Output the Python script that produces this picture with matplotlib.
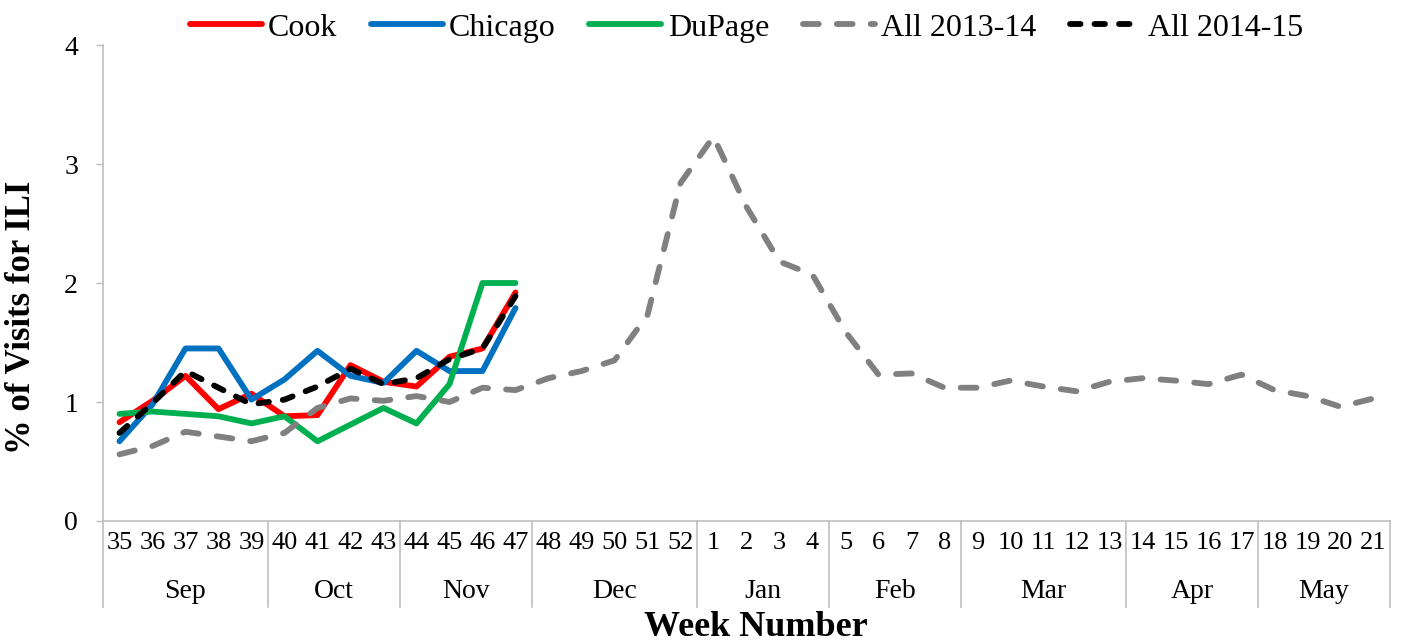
import matplotlib
matplotlib.use("Agg")
import matplotlib.pyplot as plt
import matplotlib.transforms as mtransforms
import numpy as np

weeks = [35, 36, 37, 38, 39, 40, 41, 42, 43, 44, 45, 46, 47, 48, 49, 50, 51, 52,
         1, 2, 3, 4, 5, 6, 7, 8, 9, 10, 11, 12, 13, 14, 15, 16, 17, 18, 19, 20, 21]
months = ["Sep", "Oct", "Nov", "Dec", "Jan", "Feb", "Mar", "Apr", "May"]
month_weeks = [5, 4, 4, 5, 4, 4, 5, 4, 4]

cook = [0.83, 1.01, 1.22, 0.94, 1.07, 0.88, 0.89, 1.31, 1.17, 1.13, 1.38, 1.45, 1.92]
chicago = [0.67, 0.98, 1.45, 1.45, 1.02, 1.19, 1.43, 1.22, 1.16, 1.43, 1.26, 1.26, 1.79]
dupage = [0.90, 0.92, 0.90, 0.88, 0.82, 0.88, 0.67, 0.81, 0.95, 0.82, 1.15, 2.00, 2.00]
all_1314 = [0.56, 0.63, 0.75, 0.71, 0.67, 0.74, 0.95, 1.03, 1.01, 1.05, 1.00, 1.12, 1.10,
            1.20, 1.26, 1.35, 1.73, 2.84, 3.23, 2.64, 2.18, 2.07, 1.59, 1.23, 1.24, 1.12,
            1.12, 1.18, 1.13, 1.09, 1.17, 1.20, 1.18, 1.15, 1.23, 1.10, 1.05, 0.96, 1.03]
all_1415 = [0.74, 0.99, 1.26, 1.12, 0.98, 1.02, 1.13, 1.28, 1.15, 1.20, 1.36, 1.45, 1.89]

plt.rcParams['font.family'] = ['Liberation Serif', 'DejaVu Serif']

fig = plt.figure(figsize=(14.07, 6.44), dpi=100)
ax = fig.add_subplot(111)
fig.subplots_adjust(left=0.0732, right=0.9879, top=0.9301, bottom=0.191)

x = np.arange(len(weeks)) + 0.5
n = len(cook)
lw = 4.2

ax.plot(x[:n], cook, color="#FF0000", lw=lw, label="Cook", solid_capstyle="round")
ax.plot(x[:n], chicago, color="#0070C0", lw=lw, label="Chicago", solid_capstyle="round")
ax.plot(x[:n], dupage, color="#00B050", lw=lw, label="DuPage", solid_capstyle="round")
ax.plot(x, all_1314, color="#808080", lw=lw, label="All 2013-14",
        linestyle=(0, (2.7, 3.1)), dash_capstyle="round")
ax.plot(x[:n], all_1415, color="black", lw=lw, label="All 2014-15",
        linestyle=(0, (1.8, 2.4)), dash_capstyle="round")

ax.set_xlim(0, len(weeks))
ax.set_ylim(0, 4)
ax.set_yticks([0, 1, 2, 3, 4])
ax.tick_params(axis="y", labelsize=20, length=5, width=1, color="#BFBFBF", pad=13)
ax.set_xticks(x)
ax.set_xticklabels([str(w) for w in weeks])
ax.tick_params(axis="x", labelsize=19, length=0, pad=8)

for s in ["top", "right"]:
    ax.spines[s].set_visible(False)
for s in ["left", "bottom"]:
    ax.spines[s].set_color("#BFBFBF")
    ax.spines[s].set_linewidth(1.2)

# month grouping below week labels
trans = mtransforms.blended_transform_factory(ax.transData, ax.transAxes)
bounds = np.concatenate([[0], np.cumsum(month_weeks)])
for b in bounds:
    ax.plot([b, b], [0, -0.181], transform=trans, color="#BFBFBF", lw=1.2, clip_on=False)
for i, m in enumerate(months):
    ax.text((bounds[i] + bounds[i + 1]) / 2, -0.149, m, transform=trans,
            ha="center", va="center", fontsize=20)

ax.set_ylabel("% of Visits for ILI", fontsize=25, fontweight="bold")
ax.yaxis.set_label_coords(-0.0505, 0.4286)
ax.set_xlabel("Week Number", fontsize=26, fontweight="bold")
ax.xaxis.set_label_coords(0.507, -0.223)
ax.xaxis.label.set_va("center")

ax.legend(loc="center", bbox_to_anchor=(0.500, 1.036), ncol=5, frameon=False,
          fontsize=23, handlelength=2.25, handletextpad=0.2, columnspacing=1.05)

plt.savefig("out.png", dpi=100)
